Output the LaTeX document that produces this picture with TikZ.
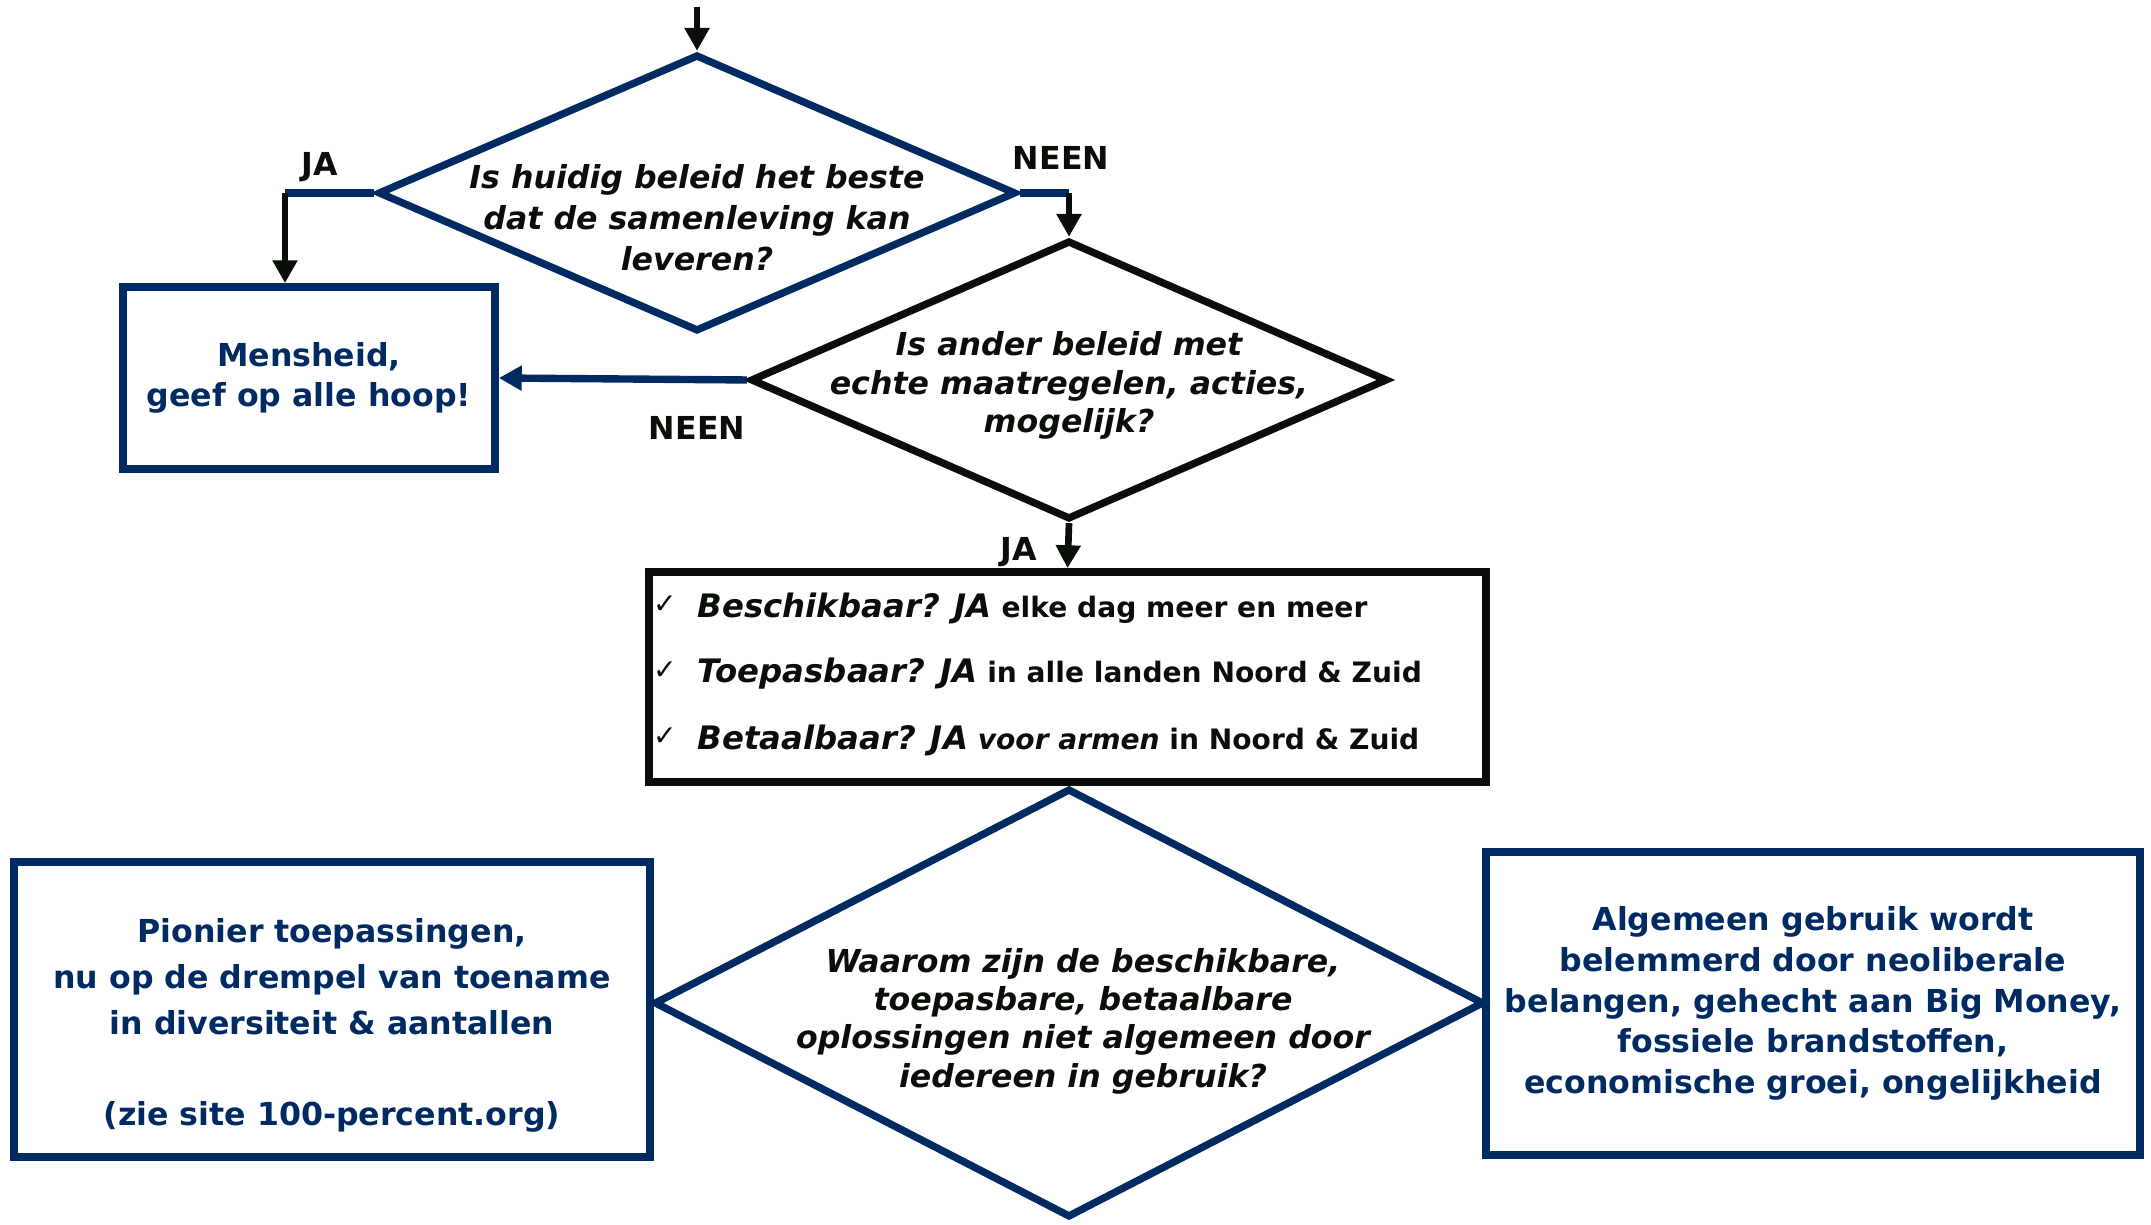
\documentclass[tikz,border=0pt]{standalone}
\usepackage{fontspec}
\setmainfont{DejaVu Sans}
\usetikzlibrary{shapes.geometric,arrows.meta}

\definecolor{navy}{RGB}{0,42,98}
\definecolor{inkt}{RGB}{10,14,8}

\tikzset{
  vraag/.style={diamond, draw=navy, line width=2.1pt, inner sep=0pt},
  vak/.style={rectangle, draw=navy, line width=2.2pt, inner sep=0pt},
  tekst/.style={font=\fontsize{9}{11.6}\selectfont\bfseries, align=center},
  vraagtekst/.style={tekst, text=inkt, font=\fontsize{9}{11.6}\selectfont\bfseries\itshape},
  regel/.style={text=inkt, font=\fontsize{8}{10}\selectfont\bfseries, anchor=west, inner sep=0pt},
  pijl/.style={draw=inkt, line width=1.9pt, -{Triangle[length=6.5pt,width=6.8pt]}},
  blauwlijn/.style={draw=navy, line width=2.1pt},
}
\newcommand{\vrg}[1]{{\fontsize{9.2}{10}\selectfont\itshape #1}}

\begin{document}
\begin{tikzpicture}
	\useasboundingbox (0,0) rectangle (21.51,12.25);

	% vragen
	\node[vraag, minimum width=6.38cm, minimum height=2.77cm] (huidig) at (6.97,10.32) {};
	\node[vraag, draw=inkt, minimum width=6.37cm, minimum height=2.79cm] (ander) at (10.69,8.45) {};
	\node[vraag, minimum width=8.30cm, minimum height=4.29cm] (waarom) at (10.69,2.22) {};

	\node[vraagtekst] (huidigtxt) at ([yshift=-0.25cm]huidig.center)
		{Is huidig beleid het beste\\dat de samenleving kan\\leveren?};
	\node[vraagtekst, font=\fontsize{9}{10.9}\selectfont\bfseries\itshape] (andertxt) at ([yshift=-0.055cm]ander.center)
		{Is ander beleid met\\echte maatregelen, acties,\\mogelijk?};
	\node[vraagtekst, font=\fontsize{9}{10.9}\selectfont\bfseries\itshape] (waaromtxt) at ([xshift=0.14cm,yshift=-0.18cm]waarom.center)
		{Waarom zijn de beschikbare,\\toepasbare, betaalbare\\oplossingen niet algemeen door\\iedereen in gebruik?};

	% vakken
	\node[vak, tekst, text=navy, minimum width=3.72cm, minimum height=1.82cm] (mens) at (3.09,8.47)
		{Mensheid,\\geef op alle hoop!};
	\node[vak, minimum width=6.36cm, minimum height=2.95cm] (pionier) at (3.32,2.155) {};
	\node[tekst, text=navy, font=\fontsize{9}{13}\selectfont\bfseries] (pioniertxt) at ([yshift=-0.16cm]pionier.center)
		{Pionier toepassingen,\\nu op de drempel van toename\\in diversiteit \& aantallen\\[13pt](zie site 100-percent.org)};
	\node[vak, tekst, text=navy, minimum width=6.54cm, minimum height=3.03cm] (algemeen) at (18.13,2.215)
		{Algemeen gebruik wordt\\belemmerd door neoliberale\\belangen, gehecht aan Big Money,\\fossiele brandstoffen,\\economische groei, ongelijkheid};

	% lijst
	\node[vak, draw=inkt, minimum width=8.37cm, minimum height=2.10cm] (lijst) at (10.675,5.48) {};
	\node[text=inkt, font=\fontsize{8}{8}\selectfont] (vink1) at (6.65,6.20) {✓};
	\node[text=inkt, font=\fontsize{8}{8}\selectfont] (vink2) at (6.65,5.54) {✓};
	\node[text=inkt, font=\fontsize{8}{8}\selectfont] (vink3) at (6.65,4.88) {✓};
	\node[regel] (regel1) at (6.97,6.17) {\vrg{Beschikbaar? JA} elke dag meer en meer};
	\node[regel] (regel2) at (6.97,5.51) {\vrg{Toepasbaar? JA} in alle landen Noord \& Zuid};
	\node[regel] (regel3) at (6.97,4.85) {\vrg{Betaalbaar? JA} \textit{voor armen} in Noord \& Zuid};

	% labels
	\node[tekst, text=inkt] (ja1) at (3.20,10.58) {JA};
	\node[tekst, text=inkt] (neen1) at (10.61,10.67) {NEEN};
	\node[tekst, text=inkt] (neen2) at (6.97,7.97) {NEEN};
	\node[tekst, text=inkt] (ja2) at (10.19,6.73) {JA};

	% verbindingen
	\coordinate (start) at (6.97,12.18);
	\coordinate (jaknik) at (2.85,10.32);
	\draw[pijl] (start) -- (huidig.north);
	\draw[blauwlijn] (huidig.west) -- (jaknik);
	\draw[pijl] (jaknik) -- (jaknik |- mens.north);
	\draw[blauwlijn] (huidig.east) -- (huidig.east -| ander.north);
	\draw[pijl] (huidig.east -| ander.north) -- (ander.north);
	\draw[pijl, draw=navy, fill=navy, line width=2.1pt] (ander.west) -- (mens.east);
	\draw[pijl] (ander.south) -- (lijst.north);
\end{tikzpicture}
\end{document}
